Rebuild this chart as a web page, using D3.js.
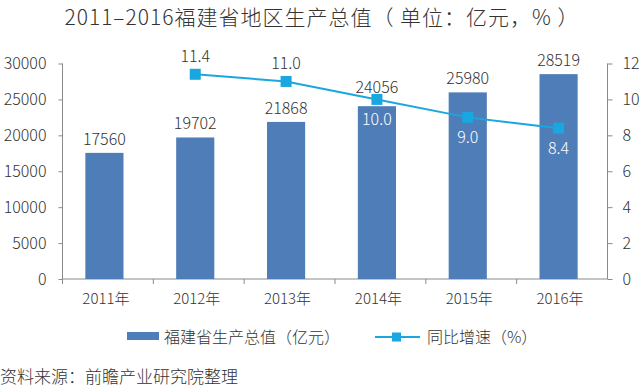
<!DOCTYPE html>
<html><head><meta charset="utf-8">
<script src="https://cdn.jsdelivr.net/npm/d3@7"></script>
<style>body{margin:0;background:#fff;}text{font-family:"Noto Sans CJK SC","Noto Sans",sans-serif;font-weight:300;}</style>
</head><body><svg id="c" width="640" height="391"></svg>
<script>
const categories = ["2011年","2012年","2013年","2014年","2015年","2016年"];
const gdpValues = [17560,19702,21868,24056,25980,28519];
const growthYears = ["2012年","2013年","2014年","2015年","2016年"];
const growthValues = [11.4,11.0,10.0,9.0,8.4];
const leftTicks = [0,5000,10000,15000,20000,25000,30000];
const rightTicks = [0,2,4,6,8,10,12];

const svg = d3.select("#c");
const m = {l:62.5, r:607.5, t:63.5, b:279};
const x = d3.scaleBand().domain(categories).range([m.l-3.5, m.r-3.5]).paddingInner(0.58).paddingOuter(0.29);
const xb = d3.scaleBand().domain(categories).range([m.l, m.r]);
const yL = d3.scaleLinear().domain([0,30000]).range([m.b, m.t]);
const yR = d3.scaleLinear().domain([0,12]).range([m.b, m.t]);
const barColor = "#4f7db7", lineColor = "#1aa6df", txt = "#333", axisC = "#8a8a8a";

svg.append("text").attr("x",322).attr("y",25).attr("text-anchor","middle").attr("font-size",21)
  .attr("letter-spacing",1).attr("fill",txt)
  .text("2011–2016福建省地区生产总值（ 单位：亿元，% ）");

// left axis
const gl = svg.append("g").attr("transform",`translate(${m.l},0)`)
  .call(d3.axisLeft(yL).tickValues(leftTicks).tickFormat(d3.format("d")).tickSize(4).tickPadding(12));
gl.selectAll("text").attr("font-size",16).attr("fill",txt);
gl.selectAll("line,path").attr("stroke",axisC);
gl.select("path").attr("d",`M0,${m.t}V${m.b}`);

// right axis
const gr = svg.append("g").attr("transform",`translate(${m.r},0)`)
  .call(d3.axisRight(yR).tickValues(rightTicks).tickSize(5).tickPadding(10));
gr.selectAll("text").attr("font-size",16).attr("fill",txt);
gr.selectAll("line,path").attr("stroke",axisC);
gr.select("path").attr("d",`M0,${m.t}V${m.b}`);

// bottom axis
const gb = svg.append("g").attr("transform",`translate(0,${m.b})`);
gb.append("line").attr("x1",m.l).attr("x2",m.r).attr("stroke",axisC);
categories.forEach((c,i)=>{
  const xx = xb(c);
  gb.append("line").attr("x1",xx).attr("x2",xx).attr("y1",0).attr("y2",5).attr("stroke",axisC);
});
gb.selectAll("text.xl").data(categories).join("text").attr("class","xl")
  .attr("x",d=>x(d)+x.bandwidth()/2+1.5).attr("y",25).attr("text-anchor","middle")
  .attr("font-size",15).attr("fill",txt).text(d=>d);

// bars
svg.selectAll("rect.bar").data(categories).join("rect").attr("class","bar")
  .attr("x",d=>x(d)).attr("width",x.bandwidth())
  .attr("y",(d,i)=>yL(gdpValues[i])).attr("height",(d,i)=>m.b-yL(gdpValues[i]))
  .attr("fill",barColor);
// bar labels; lift a label when the growth line passes through it
const growthAt = c => { const k = growthYears.indexOf(c); return k < 0 ? null : yR(growthValues[k]); };
svg.selectAll("text.bl").data(categories).join("text").attr("class","bl")
  .attr("x",d=>x(d)+x.bandwidth()/2)
  .attr("y",(d,i)=>{
    let yy = yL(gdpValues[i]) - 8;
    const g = growthAt(d);
    if (g !== null && g > yy - 14 && g < yy + 8) yy = g - 6;
    return yy;
  })
  .attr("text-anchor","middle").attr("font-size",16).attr("fill",txt).text((d,i)=>gdpValues[i]);

// line
const cx = d=>x(d)+x.bandwidth()/2;
const line = d3.line().x((d,i)=>cx(growthYears[i])).y(d=>yR(d));
svg.append("path").datum(growthValues).attr("d",line).attr("fill","none").attr("stroke",lineColor).attr("stroke-width",2);
svg.selectAll("rect.pt").data(growthValues).join("rect").attr("class","pt")
  .attr("x",(d,i)=>cx(growthYears[i])-5.5).attr("y",d=>yR(d)-5.5).attr("width",11).attr("height",11).attr("fill",lineColor);
svg.selectAll("text.pl").data(growthValues).join("text").attr("class","pl")
  .attr("x",(d,i)=>cx(growthYears[i])).attr("y",(d,i)=> i<2 ? yR(d)-12 : yR(d)+26)
  .attr("text-anchor","middle").attr("font-size",16)
  .attr("fill",(d,i)=> i<2 ? txt : "#fff").text(d=>d.toFixed(1));

// legend
svg.append("rect").attr("x",127).attr("y",332).attr("width",32).attr("height",8).attr("fill",barColor);
svg.append("text").attr("x",164).attr("y",343).attr("font-size",16).attr("fill",txt).text("福建省生产总值（亿元）");
svg.append("line").attr("x1",375).attr("x2",420).attr("y1",337).attr("y2",337).attr("stroke",lineColor).attr("stroke-width",2);
svg.append("rect").attr("x",392).attr("y",332.5).attr("width",9).attr("height",9).attr("fill",lineColor);
svg.append("text").attr("x",427).attr("y",343).attr("font-size",16).attr("fill",txt).text("同比增速（%）");

// source
svg.append("text").attr("x",0).attr("y",383).attr("font-size",17).attr("fill",txt).text("资料来源：前瞻产业研究院整理");
</script></body></html>
